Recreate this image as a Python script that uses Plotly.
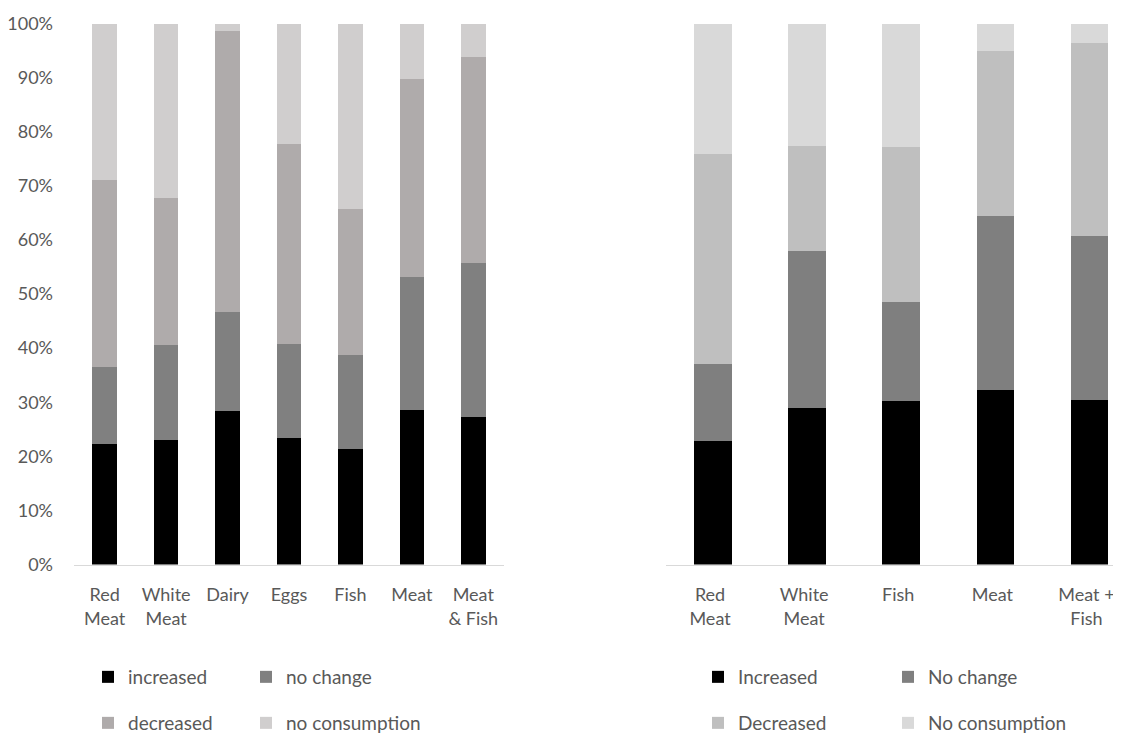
import plotly.graph_objects as go

# ---- Left chart data (percent) ----
left_categories = ["Red<br>Meat", "White<br>Meat", "Dairy", "Eggs", "Fish", "Meat", "Meat<br>& Fish"]
left_increased = [22.3, 23.0, 28.4, 23.3, 21.4, 28.6, 27.3]
left_no_change = [14.2, 17.6, 18.3, 17.4, 17.4, 24.6, 28.5]
left_decreased = [34.6, 27.2, 51.9, 37.1, 26.9, 36.5, 38.0]
left_no_consumption = [28.9, 32.2, 1.4, 22.2, 34.3, 10.3, 6.2]

# ---- Right chart data (percent) ----
right_categories = ["Red<br>Meat", "White<br>Meat", "Fish", "Meat", "Meat +<br>Fish"]
right_increased = [22.9, 29.0, 30.3, 32.2, 30.4]
right_no_change = [14.2, 29.0, 18.2, 32.2, 30.4]
right_decreased = [38.7, 19.4, 28.7, 30.6, 35.6]
right_no_consumption = [24.2, 22.6, 22.8, 5.0, 3.6]

y_ticks = [0, 10, 20, 30, 40, 50, 60, 70, 80, 90, 100]
y_tick_labels = ["0%", "10%", "20%", "30%", "40%", "50%", "60%", "70%", "80%", "90%", "100%"]

FONT = "Lato"
TXT = "#595959"
OFF = 8  # page body margin
W, H = 1121 - OFF, 733 - OFF


def px_x(x):
    return (x - OFF) / W


def px_y(y):
    return (H - (y - OFF)) / H


fig = go.Figure()

# (name, values, colour, legend id, legend x px, legend y px)
left_series = [
    ("increased", left_increased, "#000000", "legend", 88, 677),
    ("no change", left_no_change, "#808080", "legend2", 246, 677),
    ("decreased", left_decreased, "#AFABAB", "legend3", 88, 723),
    ("no consumption", left_no_consumption, "#D0CECE", "legend4", 246, 723),
]
right_series = [
    ("Increased", right_increased, "#000000", "legend5", 698, 677),
    ("No change", right_no_change, "#7F7F7F", "legend6", 888, 677),
    ("Decreased", right_decreased, "#BFBFBF", "legend7", 698, 723),
    ("No consumption", right_no_consumption, "#D9D9D9", "legend8", 888, 723),
]

legends = {}
for name, vals, col, lg, lx, ly in left_series:
    fig.add_trace(go.Bar(x=left_categories, y=vals, name=name, marker_color=col,
                         marker_line_width=0, xaxis="x", yaxis="y", legend=lg,
                         showlegend=True))
    legends[lg] = (lx, ly)
for name, vals, col, lg, lx, ly in right_series:
    fig.add_trace(go.Bar(x=right_categories, y=vals, name=name, marker_color=col,
                         marker_line_width=0, xaxis="x2", yaxis="y2", legend=lg,
                         showlegend=True))
    legends[lg] = (lx, ly)

y0 = px_y(564.5)
y1 = px_y(23.5)


def legend_cfg(xpx, ypx):
    return dict(orientation="h", x=px_x(xpx), y=px_y(ypx), xanchor="left", yanchor="middle",
                bgcolor="rgba(0,0,0,0)", visible=True,
                font=dict(family=FONT, size=19, color=TXT),
                itemclick=False, itemdoubleclick=False)


fig.update_layout(
    width=W, height=H,
    showlegend=True,
    margin=dict(l=0, r=0, t=0, b=0, autoexpand=False),
    paper_bgcolor="white", plot_bgcolor="white",
    barmode="stack", bargap=0.6,
    font=dict(family=FONT, size=18, color=TXT),
    xaxis=dict(domain=[px_x(74), px_x(504)], anchor="y", showline=True, linecolor="#D9D9D9",
               linewidth=1, ticks="", showgrid=False, tickfont=dict(size=18, color=TXT),
               ticklabelstandoff=14, range=[-0.5, 6.5]),
    yaxis=dict(domain=[y0, y1], anchor="x", range=[0, 100], tickvals=y_ticks,
               ticktext=y_tick_labels,
               showgrid=False, showline=False, zeroline=False, ticks="",
               tickfont=dict(size=18, color=TXT), ticklabelstandoff=20),
    xaxis2=dict(domain=[px_x(666), 1.0], anchor="y2", showline=True, linecolor="#D9D9D9",
                linewidth=1, ticks="", showgrid=False, tickfont=dict(size=18, color=TXT),
                ticklabelstandoff=14, ticklabelshift=-3, range=[-0.5, 4.335]),
    yaxis2=dict(domain=[y0, y1], anchor="x2", range=[0, 100], showticklabels=False,
                showgrid=False, showline=False, zeroline=False, ticks=""),
)
fig.update_layout({lg: legend_cfg(lx, ly) for lg, (lx, ly) in legends.items()})

fig.write_html("out.html")
